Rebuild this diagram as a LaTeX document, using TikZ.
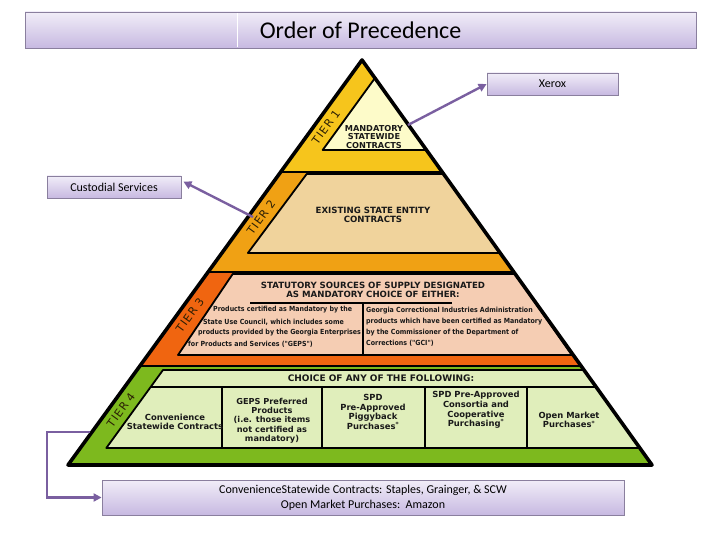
\documentclass[tikz,border=0pt]{standalone}
\usepackage{fontspec}
\setmainfont{Carlito}
\newfontfamily\verd{DejaVu Sans}
\newfontfamily\verdw{DejaVu Sans}[LetterSpace=10]
\newfontfamily\verdc{DejaVu Sans Condensed}
\usetikzlibrary{arrows.meta}
\definecolor{boxtop}{HTML}{F1EDF8}
\definecolor{boxbot}{HTML}{C7B9E1}
\definecolor{boxline}{HTML}{8A7F9E}
\definecolor{pointcol}{HTML}{7A5FA0}
\definecolor{tierone}{HTML}{F6C51C}
\definecolor{tieronein}{HTML}{FDFBC9}
\definecolor{tiertwo}{HTML}{F0A114}
\definecolor{tiertwoin}{HTML}{F0D39C}
\definecolor{tierthree}{HTML}{F06510}
\definecolor{tierthreein}{HTML}{F5CDB3}
\definecolor{tierfour}{HTML}{7DB91E}
\definecolor{tierfourin}{HTML}{E0EEBB}
\definecolor{tiertext}{HTML}{2A1E05}

\begin{document}
\begin{tikzpicture}[x=1pt,y=-1pt,
	callout/.style={draw=boxline, line width=0.8pt, top color=boxtop, bottom color=boxbot, inner sep=0pt, align=center, font=\fontsize{12}{15}\selectfont},
	pointer/.style={pointcol, line width=2.4pt, -{Triangle[length=8pt,width=8pt]}},
	tiertag/.style={font=\verdw\fontsize{11}{11}\selectfont, text=tiertext, rotate=54, inner sep=0pt},
	panel/.style={draw=black, line width=1.8pt, line join=round},
	heading/.style={font=\verd\bfseries\fontsize{8.6}{9}\selectfont, align=center, text=black!90, inner sep=0pt},
	choice/.style={font=\verd\bfseries\fontsize{8.4}{9.6}\selectfont, align=center, text=black!90, inner sep=0pt},
	sourcenote/.style={font=\verdc\bfseries\fontsize{7}{11}\selectfont, text=black!90, inner sep=0pt}]
	\useasboundingbox (0,0) rectangle (720,540);

	% boxes
	\node[callout, minimum width=671pt, minimum height=36pt, font=\fontsize{24}{28}\selectfont] (title) at (360.5,30) {Order of Precedence};
	\draw[white, line width=1pt] (237,13) -- (237,47);
	\node[callout, minimum width=131pt, minimum height=22pt] (xerox) at (552.5,84) {Xerox};
	\node[callout, minimum width=134pt, minimum height=22pt] (custodial) at (114,187) {Custodial Services};
	\node[callout, minimum width=522pt, minimum height=35pt] (vendors) at (363,497.5) {ConvenienceStatewide Contracts: Staples, Grainger, \& SCW\\Open Market Purchases:\ \ Amazon};

	% pyramid bands
	\fill[tierone] (362,60) -- (442.2,172) -- (280.7,172) -- cycle;
	\fill[tiertwo] (280.7,172) -- (442.2,172) -- (513.8,272) -- (208.1,272) -- cycle;
	\fill[tierthree] (208.1,272) -- (513.8,272) -- (581.1,366) -- (139.9,366) -- cycle;
	\fill[tierfour] (139.9,366) -- (581.1,366) -- (652,465) -- (68,465) -- cycle;

	% inner panels
	\filldraw[panel, fill=tieronein] (375,78) -- (426.4,150) -- (322.7,150) -- cycle;
	\filldraw[panel, fill=tiertwoin] (306.7,174) -- (443.6,174) -- (500.2,253) -- (247.9,253) -- cycle;
	\filldraw[panel, fill=tierthreein] (232.7,274) -- (515.2,274) -- (571.8,355) -- (178,355) -- cycle;
	\filldraw[panel, fill=tierfourin] (163,370) -- (584,370) -- (639.8,448) -- (106.3,448) -- cycle;
	\draw[line width=2.6pt] (280.7,172) -- (442.2,172) (208.1,272) -- (513.8,272) (139.9,366) -- (581.1,366);
	\draw[line width=1.2pt] (250,303) -- (452,303) (363,303) -- (363,355);
	\draw[line width=1.4pt] (150.6,387) -- (596.1,387);
	\foreach \x in {222,322,425,527}
		\draw[line width=1.4pt] (\x,387) -- (\x,448);
	\draw[line width=3.6pt, line join=round] (362,60) -- (652,465) -- (68,465) -- cycle;

	% tier labels
	\node[tiertag] (tagone) at (326,127) {TIER 1};
	\node[tiertag] (tagtwo) at (261,217) {TIER 2};
	\node[tiertag] (tagthree) at (190,315) {TIER 3};
	\node[tiertag] (tagfour) at (121,410) {TIER 4};

	% panel texts
	\node[heading, font=\verd\bfseries\fontsize{8.2}{8.6}\selectfont] (mandatory) at (374,137) {MANDATORY\\STATEWIDE\\CONTRACTS};
	\node[heading] (existing) at (373,215) {EXISTING STATE ENTITY\\CONTRACTS};
	\node[heading] (statutory) at (373,290) {STATUTORY SOURCES OF SUPPLY DESIGNATED\\AS MANDATORY CHOICE OF EITHER:};
	\node[sourcenote, anchor=west] (gepsa) at (213,310) {Products certified as Mandatory by the};
	\node[sourcenote, anchor=west] (gepsb) at (203,322) {State Use Council, which includes some};
	\node[sourcenote, anchor=west] (gepsc) at (198,333) {products provided by the Georgia Enterprises};
	\node[sourcenote, anchor=west] (gepsd) at (188,344) {for Products and Services ("GEPS")};
	\node[sourcenote, anchor=west, align=left] (gci) at (366,326.5) {Georgia Correctional Industries Administration\\products which have been certified as Mandatory\\by the Commissioner of the Department of\\Corrections ("GCI")};
	\node[heading, font=\verd\bfseries\fontsize{9}{9}\selectfont] (anyof) at (381,378) {CHOICE OF ANY OF THE FOLLOWING:};
	\node[choice] (convenience) at (175,422) {Convenience\\Statewide Contracts};
	\node[choice, font=\verd\bfseries\fontsize{8.2}{9.3}\selectfont] (preferred) at (272,420.5) {GEPS Preferred\\Products\\(i.e. those items\\not certified as\\mandatory)};
	\node[choice] (piggyback) at (373,412) {SPD\\Pre-Approved\\Piggyback\\Purchases\textsuperscript{*}};
	\node[choice] (consortia) at (476,410) {SPD Pre-Approved\\Consortia and\\Cooperative\\Purchasing\textsuperscript{*}};
	\node[choice] (openmarket) at (569,420) {Open Market\\Purchases\textsuperscript{*}};

	% pointers
	\coordinate (fromone) at (408,125);
	\coordinate (fromtwo) at (253,217);
	\coordinate (fromfour) at (90,432);
	\draw[pointer] (fromone) -- (xerox.west);
	\draw[pointer] (fromtwo) -- ([xshift=2pt,yshift=-6pt]custodial.north east);
	\draw[pointer] (fromfour) -- (47,432) |- (vendors.west);
\end{tikzpicture}
\end{document}
